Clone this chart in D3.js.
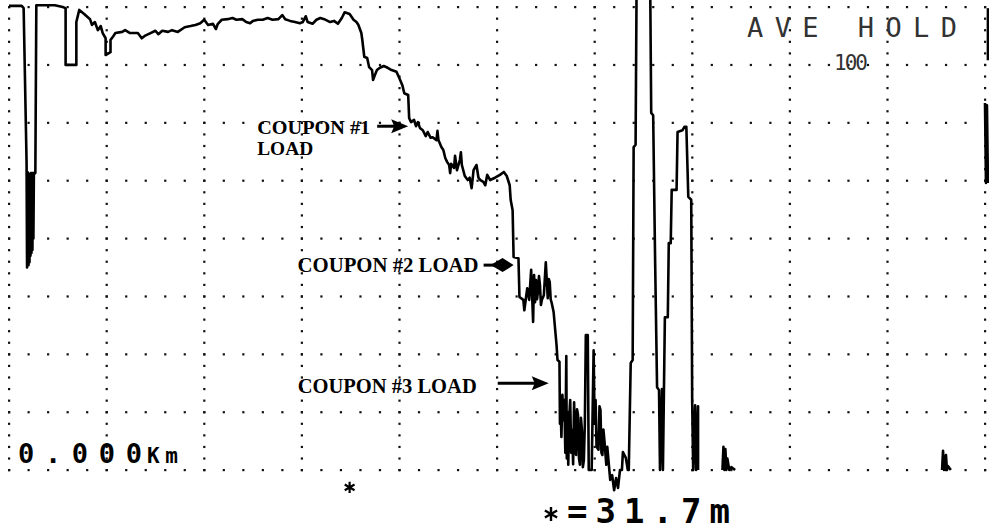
<!DOCTYPE html>
<html>
<head>
<meta charset="utf-8">
<script src="https://cdn.jsdelivr.net/npm/d3@7"></script>
<style>
  html, body { margin: 0; padding: 0; background: #fff; }
  svg { display: block; }
</style>
</head>
<body>
<svg id="chart" width="989" height="530"></svg>
<script>
// Screen graticule: 10 x 8 divisions, 5 minor dots per division
const xDivisions = 10;
const yDivisions = 8;
const minorPerDiv = 5;

// Trace, as [position (div), level (div)] pairs, split where the trace leaves the screen
const leftBurst = [
  [0,8.02],[0.13,8.02],[0.15,7.98],[0.18,5.32],[0.185,3.50],[0.19,5.15],[0.20,3.54],[0.205,5.12],
  [0.21,3.59],[0.215,5.12],[0.22,3.70],[0.225,5.13],[0.23,3.75],[0.235,5.13],[0.24,3.80],[0.245,5.13],
  [0.25,4.00],[0.255,5.13],[0.27,5.13],[0.28,8.03],[0.47,8.03],[0.55,8.00],[0.58,7.98],[0.58,7.00],
  [0.69,7.00],[0.69,7.74],[0.72,7.95],[0.77,7.88],[0.83,7.79],[0.85,7.69],[0.88,7.74],[0.91,7.60],
  [0.94,7.67],[0.96,7.55],[0.99,7.46],[0.99,7.17],[1.04,7.22],[1.04,7.43],[1.07,7.50],[1.09,7.55]
];
const plateau = [
  [1.16,7.57],[1.19,7.60],[1.24,7.55],[1.32,7.55],[1.36,7.46],[1.39,7.50],[1.45,7.55],[1.50,7.59],
  [1.53,7.53],[1.57,7.59],[1.63,7.57],[1.67,7.60],[1.73,7.57],[1.80,7.65],[1.86,7.67],[1.91,7.69],
  [1.96,7.72],[2.00,7.78],[2.04,7.69],[2.09,7.71],[2.12,7.62],[2.14,7.71],[2.18,7.78],[2.24,7.79],
  [2.29,7.81],[2.33,7.78],[2.39,7.79],[2.43,7.74],[2.47,7.72],[2.50,7.76],[2.55,7.78],[2.60,7.78],
  [2.65,7.81],[2.70,7.78],[2.76,7.79],[2.80,7.86],[2.83,7.79],[2.88,7.76],[2.93,7.74],[2.98,7.72],
  [3.01,7.74],[3.04,7.84],[3.06,7.74],[3.11,7.71],[3.15,7.78],[3.19,7.81],[3.23,7.79],[3.29,7.74],
  [3.33,7.76],[3.37,7.71],[3.41,7.81],[3.44,7.91],[3.49,7.88],[3.53,7.78],[3.56,7.74],[3.58,7.69],
  [3.61,7.55]
];
const descent = [
  [3.62,7.43],[3.64,7.14],[3.67,7.12],[3.69,6.96],[3.72,6.91],[3.73,6.74],[3.75,6.83],[3.77,6.91],
  [3.80,6.95],[3.84,6.98],[3.88,6.95],[3.92,6.91],[3.97,6.88],[4.00,6.77],[4.03,6.65],[4.05,6.51],
  [4.09,6.48],[4.10,6.08],[4.12,6.01],[4.15,6.05],[4.17,5.94],[4.19,6.01],[4.21,5.91],[4.24,5.87],
  [4.27,5.77],[4.29,5.84],[4.32,5.74],[4.34,5.75],[4.38,5.70],[4.39,5.86],[4.40,5.70],[4.43,5.58],
  [4.45,5.53],[4.47,5.39],[4.49,5.32],[4.51,5.27],[4.52,5.13],[4.53,5.29],[4.56,5.22],[4.57,5.43],
  [4.59,5.18],[4.62,5.36],[4.63,5.49],[4.64,5.27],[4.67,5.08],[4.70,5.01],[4.72,5.05],[4.74,4.87],
  [4.76,5.18],[4.79,5.27],[4.81,5.05],[4.83,5.01],[4.86,4.98],[4.88,4.92],[4.90,5.10],[4.93,5.01],
  [4.98,5.05],[5.03,5.10],[5.07,5.15],[5.10,5.08],[5.13,4.92],[5.14,4.67],[5.16,4.49],[5.17,3.68],
  [5.22,3.66],[5.23,2.99],[5.27,2.94],[5.28,2.76]
];
const loadBurst = [
  [5.31,3.14],[5.33,2.94],[5.35,3.46],[5.37,2.56],[5.38,3.37],[5.39,2.90],[5.40,3.28],[5.41,2.95],
  [5.42,3.08],[5.43,3.35],[5.44,3.20],[5.45,2.85],[5.46,2.94],[5.48,3.02],[5.50,3.59],[5.52,2.97],
  [5.53,3.30],[5.54,3.25],[5.55,2.95],[5.56,2.89],[5.58,2.73],[5.61,2.16],[5.62,1.90],[5.64,1.87],
  [5.645,0.80],[5.65,1.21],[5.66,0.57],[5.67,1.30],[5.68,0.86],[5.69,1.21],[5.70,0.30],[5.71,1.97],
  [5.715,0.20],[5.72,0.52],[5.725,1.00],[5.73,0.09],[5.74,0.90],[5.75,1.21],[5.76,0.30],[5.77,0.69],
  [5.78,0.10],[5.79,1.17],[5.80,0.40],[5.81,0.26],[5.82,1.05],[5.83,0.95],[5.84,0.20],[5.85,0.09],
  [5.86,0.90],[5.87,0.69],[5.88,0.05],[5.89,0.17],[5.90,0.80],[5.91,2.33],[5.93,2.33],[5.94,0],
  [5.97,0],[5.99,2.07],[6.00,0.80],[6.01,1.21],[6.02,0.40],[6.04,0.35],[6.05,1.10],[6.06,1.04],
  [6.07,0.30],[6.08,0.26],[6.09,0.70],[6.10,0.52],[6.12,0.09],[6.13,0.40],[6.14,0.21],[6.16,-0.17],
  [6.18,-0.09],[6.20,-0.35],[6.22,-0.14],[6.24,-0.31],[6.26,0],[6.28,0],[6.29,0.31],[6.32,0.21],
  [6.34,0]
];
const peaks = [
  [6.35,0],[6.37,1.85],[6.39,1.90],[6.40,5.58],[6.42,5.62],[6.43,8.30],[6.57,8.30],[6.58,6.17],
  [6.60,6.13],[6.62,3.63],[6.64,1.43],[6.66,1.38],[6.67,0],[6.69,1.40],[6.70,0],[6.72,2.64],
  [6.75,2.64],[6.76,3.92],[6.78,3.92],[6.79,4.84],[6.84,4.84],[6.85,5.84],[6.90,5.87],[6.92,5.93],
  [6.94,5.93],[6.96,4.72],[6.99,4.67],[7.00,1.16],[7.01,0],[7.03,1.12],[7.04,0],[7.06,1.10],[7.06,0]
];
const echoNear = [[7.31,0],[7.32,0.40],[7.33,0],[7.34,0.36],[7.35,0],[7.36,0.20],[7.38,0],[7.40,0.05],[7.44,0]];
const echoFar = [[9.56,0],[9.57,0.33],[9.58,0],[9.60,0.26],[9.61,0],[9.62,0.07],[9.65,0]];
const edgeUpper = [[10.03,7.98],[10.03,7.08]];
const edgeLower = [[10.00,6.34],[10.01,4.96],[10.02,6.30],[10.03,4.96]];

// Coupon load events on the trace
const couponLines = [["COUPON #1", "LOAD"], ["COUPON #2 LOAD"], ["COUPON #3 LOAD"]];
const couponPos = [4.09, 5.17, 5.53];
const couponLevel = [5.94, 3.54, 1.50];

// Marker and readouts
const markerPos = 3.49;
const startReadout = "0.000";
const startUnit = "Km";
const markerReadout = "=31.7m";
const modeLabel = "AVE HOLD";
const avgCount = "100";

const svg = d3.select("#chart");
const x = d3.scaleLinear().domain([0, xDivisions]).range([9, 985]);
const y = d3.scaleLinear().domain([0, yDivisions]).range([470, 7]);

// Dotted graticule
const dots = [];
for (let i = 0; i <= xDivisions; i++)
  for (let j = 0; j <= yDivisions * minorPerDiv; j++) dots.push([i, j / minorPerDiv]);
for (let j = 0; j <= yDivisions; j++)
  for (let i = 0; i <= xDivisions * minorPerDiv; i++) dots.push([i / minorPerDiv, j]);
svg.append("g").selectAll("rect").data(dots).join("rect")
  .attr("x", d => x(d[0]) - 1).attr("y", d => y(d[1]) - 1)
  .attr("width", 2.2).attr("height", 2.2).attr("fill", "#111");

// Trace
const segments = [
  leftBurst.concat(plateau, descent, loadBurst, peaks),
  echoNear, echoFar, edgeUpper, edgeLower
];
const line = d3.line().x(d => x(d[0])).y(d => y(d[1]));
svg.append("g").selectAll("path").data(segments).join("path")
  .attr("d", line)
  .attr("fill", "none").attr("stroke", "#000")
  .attr("stroke-width", 2.6).attr("stroke-linejoin", "round");

// Coupon annotations
const labelLayout = [
  { dx: -151, anchor: "start", dy: 8, len: [113, 56], size: 19, gap: 21, shaft: -31, head: "tri" },
  { dx: -35, anchor: "end", dy: 7, len: [181], size: 22, gap: 0, shaft: -30, head: "diamond" },
  { dx: -72, anchor: "end", dy: 10, len: [179], size: 22, gap: 0, shaft: -51, head: "tri" }
];
const notes = svg.append("g");
couponLines.forEach((lines, k) => {
  const tx = x(couponPos[k]), ty = y(couponLevel[k]);
  const L = labelLayout[k];
  const label = notes.append("text")
    .attr("x", tx + L.dx).attr("y", ty + L.dy)
    .attr("text-anchor", L.anchor)
    .attr("font-family", "'Liberation Serif', 'Times New Roman', serif")
    .attr("font-weight", "bold").attr("font-size", L.size).attr("fill", "#000");
  lines.forEach((t, n) => {
    label.append("tspan")
      .attr("x", tx + L.dx).attr("dy", n === 0 ? 0 : L.gap)
      .attr("textLength", L.len[n]).attr("lengthAdjust", "spacingAndGlyphs")
      .text(t);
  });
  notes.append("line")
    .attr("x1", tx + L.shaft).attr("x2", tx - 10).attr("y1", ty).attr("y2", ty)
    .attr("stroke", "#000").attr("stroke-width", 3);
  const head = L.head === "tri"
    ? [[tx, ty], [tx - 17, ty - 7], [tx - 14, ty], [tx - 17, ty + 7]]
    : [[tx, ty], [tx - 11, ty - 7], [tx - 23, ty], [tx - 11, ty + 7]];
  notes.append("polygon").attr("points", head.map(p => p.join(",")).join(" ")).attr("fill", "#000");
});

// Instrument readouts
const mono = "'DejaVu Sans Mono', 'Liberation Mono', monospace";
svg.append("text").attr("x", 747).attr("y", 37)
  .attr("font-family", mono).attr("font-size", 27).attr("fill", "#333")
  .attr("textLength", 210).attr("lengthAdjust", "spacing").text(modeLabel);
svg.append("text").attr("x", 834).attr("y", 70)
  .attr("font-family", mono).attr("font-size", 21).attr("fill", "#333")
  .attr("textLength", 34).attr("lengthAdjust", "spacing").text(avgCount);
svg.append("text").attr("x", 18).attr("y", 463)
  .attr("font-family", mono).attr("font-weight", "bold").attr("font-size", 27).attr("fill", "#000")
  .attr("textLength", 124).attr("lengthAdjust", "spacing").text(startReadout);
svg.append("text").attr("x", 147).attr("y", 463)
  .attr("font-family", mono).attr("font-weight", "bold").attr("font-size", 21).attr("fill", "#000")
  .attr("textLength", 31).attr("lengthAdjust", "spacing").text(startUnit);

// Marker symbol below the trace and in the readout
const star = d3.symbol().type(d3.symbolAsterisk);
svg.append("path").attr("d", star.size(90)())
  .attr("transform", `translate(${x(markerPos)},${y(-0.3)})`)
  .attr("fill", "none").attr("stroke", "#000").attr("stroke-width", 2.2);
svg.append("path").attr("d", star.size(140)())
  .attr("transform", "translate(551,514)")
  .attr("fill", "none").attr("stroke", "#000").attr("stroke-width", 2.4);
svg.append("text").attr("x", 567).attr("y", 523)
  .attr("font-family", mono).attr("font-weight", "bold").attr("font-size", 34).attr("fill", "#000")
  .attr("textLength", 163).attr("lengthAdjust", "spacing").text(markerReadout);
</script>
</body>
</html>
